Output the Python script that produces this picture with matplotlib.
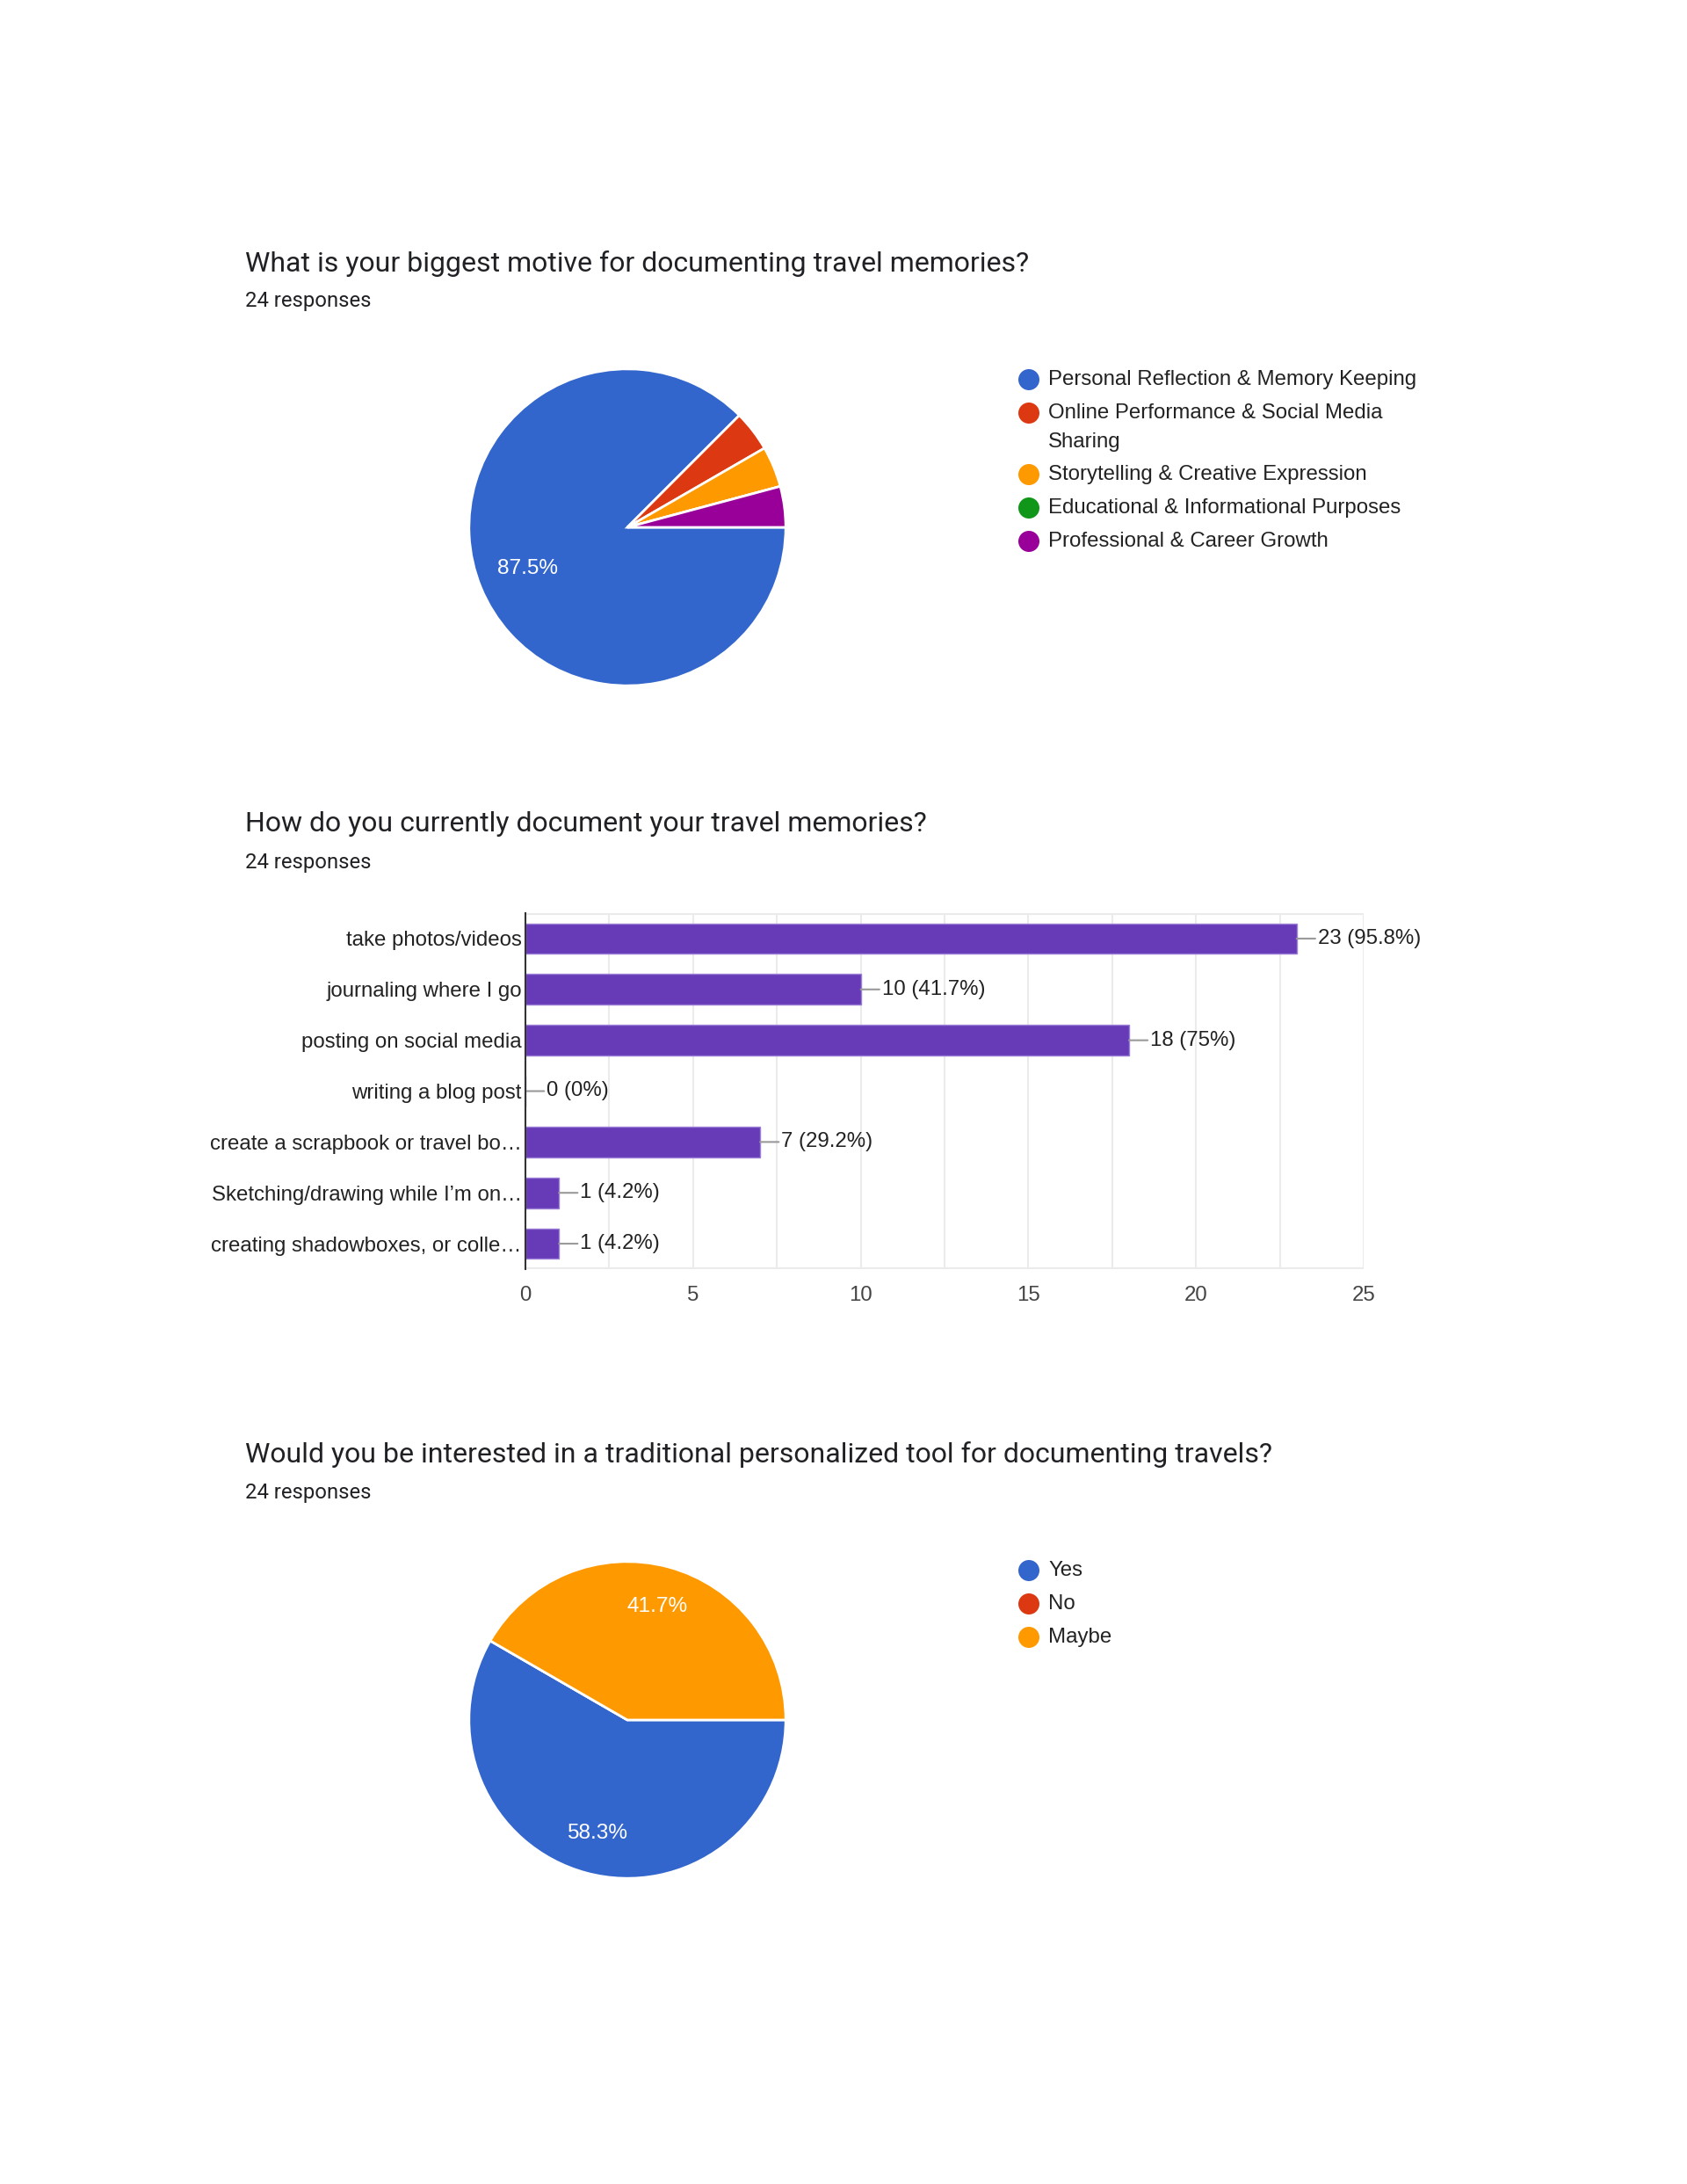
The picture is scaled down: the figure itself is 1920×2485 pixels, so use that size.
import matplotlib
matplotlib.use('Agg')
import matplotlib.pyplot as plt
from matplotlib.patches import Ellipse
import numpy as np

W = 1920
H = 2485

# --- data ---
q1_title = "What is your biggest motive for documenting travel memories?"
q1_labels = ["Personal Reflection & Memory Keeping",
             "Online Performance & Social Media\nSharing",
             "Storytelling & Creative Expression",
             "Educational & Informational Purposes",
             "Professional & Career Growth"]
q1_values = [21, 1, 1, 0, 1]

q2_title = "How do you currently document your travel memories?"
q2_labels = ["take photos/videos", "journaling where I go", "posting on social media",
             "writing a blog post", "create a scrapbook or travel bo\u2026",
             "Sketching/drawing while I\u2019m on\u2026", "creating shadowboxes, or colle\u2026"]
q2_values = [23, 10, 18, 0, 7, 1, 1]

q3_title = "Would you be interested in a traditional personalized tool for documenting travels?"
q3_labels = ["Yes", "No", "Maybe"]
q3_values = [14, 0, 10]

n_responses = 24
pie_colors = ["#3366cc", "#dc3912", "#ff9900", "#109618", "#990099"]
bar_color = "#673ab7"

FS = 17.3  # chart text size


def fx(x):
    return x / W


def fy(y):
    return 1 - y / H


def header(fig, title, y):
    fig.text(fx(279), fy(y), title, fontsize=23, family="Roboto", color="#202124", va="center")
    fig.text(fx(279), fy(y + 43), str(n_responses) + " responses", fontsize=17.2, family="Roboto",
             color="#202124", va="center")


def pie_chart(fig, cx, cy, r, values, colors, pctdist):
    ax = fig.add_axes([fx(cx - r), fy(cy + r), 2 * r / W, 2 * r / H])

    def fmt(p):
        return ("%.1f%%" % p) if p > 10 else ""

    ax.pie(values, colors=colors, startangle=0, counterclock=False,
           autopct=fmt, pctdistance=pctdist,
           wedgeprops=dict(edgecolor="white", linewidth=2),
           textprops=dict(color="white", fontsize=17.6, family="Liberation Sans"))
    ax.set_xlim(-1.01, 1.01)
    ax.set_ylim(-1.01, 1.01)
    ax.set_aspect("equal")
    ax.axis("off")


def legend(fig, labels, colors, x, rows):
    for lab, col, y in zip(labels, colors, rows):
        fig.patches.append(Ellipse((fx(x), fy(y)), 24 / W, 24 / H, transform=fig.transFigure,
                                   facecolor=col, edgecolor="none"))
        for k, line in enumerate(lab.split("\n")):
            fig.text(fx(x + 22), fy(y + k * 33), line, fontsize=FS, family="Liberation Sans",
                     color="#222222", va="center")


fig = plt.figure(figsize=(W / 100, H / 100), dpi=100)
fig.patch.set_facecolor("white")

# chart 1
header(fig, q1_title, 300)
pie_chart(fig, 714, 600, 182, q1_values, pie_colors, 0.68)
legend(fig, q1_labels, pie_colors, 1171, [432, 470, 540, 578, 616])

# chart 2
header(fig, q2_title, 938)
ax = fig.add_axes([fx(598), fy(1444), (1552 - 598) / W, (1444 - 1039) / H])
ypos = np.arange(len(q2_values))
ax.barh(ypos, q2_values, height=0.6, color=bar_color, edgecolor="#9c7fd6", linewidth=1, zorder=3)
ax.set_ylim(len(q2_values) - 0.5, -0.5)
ax.set_xlim(0, 25)
ax.set_yticks(ypos)
ax.set_yticklabels(q2_labels, fontsize=FS, family="Liberation Sans", color="#222222")
ax.set_xticks([0, 5, 10, 15, 20, 25])
ax.set_xticklabels(["0", "5", "10", "15", "20", "25"], fontsize=FS, family="Liberation Sans", color="#444444")
ax.set_xticks(np.arange(0, 25.1, 2.5), minor=True)
ax.tick_params(axis="both", length=0, pad=3)
ax.tick_params(axis="x", pad=13.5)
ax.tick_params(which="minor", length=0)
ax.grid(axis="x", which="both", color="#ebebeb", linewidth=1.5, zorder=0)
for s in ["top", "right", "bottom"]:
    ax.spines[s].set_visible(False)
ax.spines["left"].set_color("#333333")
ax.spines["left"].set_linewidth(1.5)
ax.spines["left"].set_zorder(4)
ax.axhline(-0.5, color="#ebebeb", linewidth=3, zorder=1)
ax.axhline(len(q2_values) - 0.5, color="#ebebeb", linewidth=3, zorder=1)
for i, v in enumerate(q2_values):
    p = v * 100.0 / n_responses
    ps = ("%.1f" % p).rstrip("0").rstrip(".")
    ax.annotate("%d (%s%%)" % (v, ps), xy=(v, i), xytext=(24, 0), textcoords="offset pixels",
                ha="left", va="center", fontsize=FS, family="Liberation Sans", color="#222222",
                arrowprops=dict(arrowstyle="-", color="#999999", lw=1.5, shrinkA=0, shrinkB=0),
                annotation_clip=False)

# chart 3
header(fig, q3_title, 1655)
pie_chart(fig, 714, 1957, 182, q3_values, pie_colors[:3], 0.74)
legend(fig, q3_labels, pie_colors[:3], 1171, [1787, 1825, 1863])

plt.savefig("out.png", dpi=100)
